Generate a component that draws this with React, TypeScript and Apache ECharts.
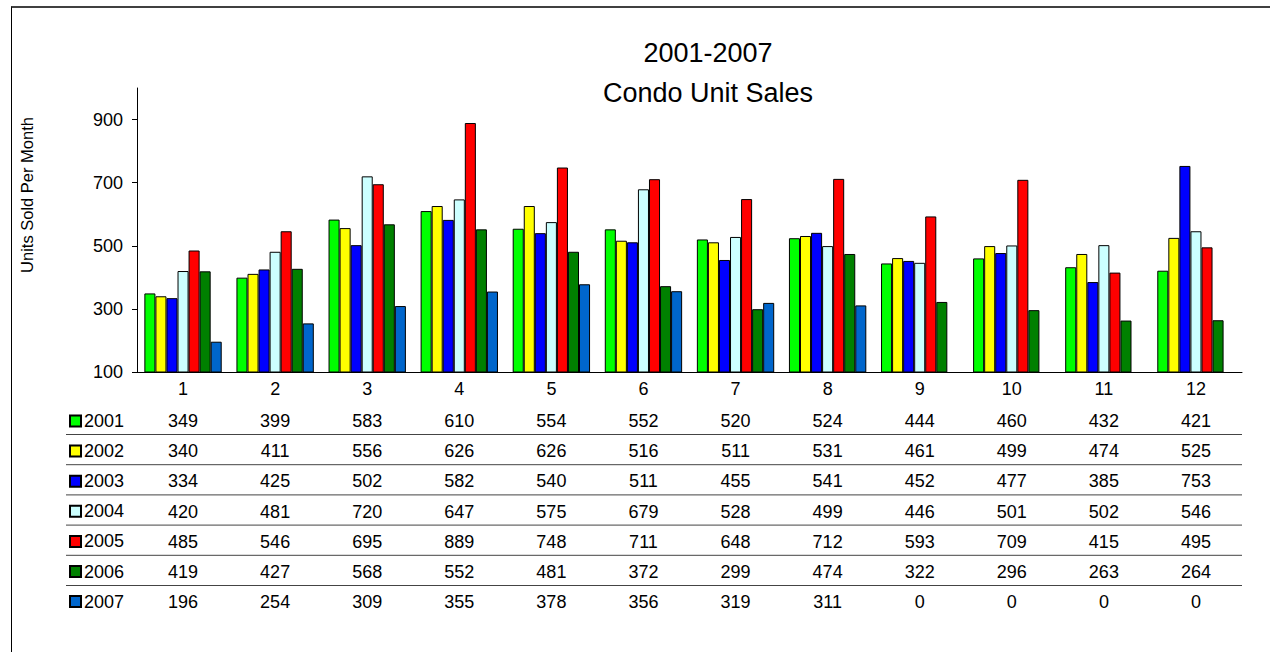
import { useEffect, useRef } from 'react'
import * as echarts from 'echarts'

const months = ['1', '2', '3', '4', '5', '6', '7', '8', '9', '10', '11', '12']
const years = ['2001', '2002', '2003', '2004', '2005', '2006', '2007']
const colors = ['#00ff00', '#ffff00', '#0000ff', '#ccffff', '#ff0000', '#008000', '#0066cc']

const sales2001 = [349, 399, 583, 610, 554, 552, 520, 524, 444, 460, 432, 421]
const sales2002 = [340, 411, 556, 626, 626, 516, 511, 531, 461, 499, 474, 525]
const sales2003 = [334, 425, 502, 582, 540, 511, 455, 541, 452, 477, 385, 753]
const sales2004 = [420, 481, 720, 647, 575, 679, 528, 499, 446, 501, 502, 546]
const sales2005 = [485, 546, 695, 889, 748, 711, 648, 712, 593, 709, 415, 495]
const sales2006 = [419, 427, 568, 552, 481, 372, 299, 474, 322, 296, 263, 264]
const sales2007 = [196, 254, 309, 355, 378, 356, 319, 311, 0, 0, 0, 0]

const rows = [sales2001, sales2002, sales2003, sales2004, sales2005, sales2006, sales2007]
const yTicks = [100, 300, 500, 700, 900]

const FONT = 'Liberation Sans, Arial, sans-serif'
const GRID_BOTTOM = 372
const ROW_TOP = 421
const ROW_STEP = 30.2

export default function App() {
  const chartRef = useRef<HTMLDivElement>(null)

  useEffect(() => {
    if (!chartRef.current) return
    const chart = echarts.init(chartRef.current, null, { renderer: 'svg' })

    // one hidden category axis per table row, so the numbers line up with the months
    const tableAxes = rows.map((row, k) => ({
      type: 'category',
      gridIndex: 0,
      position: 'bottom',
      offset: ROW_TOP + k * ROW_STEP - GRID_BOTTOM,
      data: months,
      axisLine: { show: false },
      axisTick: { show: false },
      axisLabel: {
        interval: 0,
        margin: 0,
        verticalAlign: 'middle',
        fontSize: 18,
        fontFamily: FONT,
        color: '#000',
        formatter: (_v: string, i: number) => String(row[i]),
      },
    }))

    const separators = years.slice(1).map((_, k) => ({
      type: 'line',
      shape: {
        x1: 66,
        y1: ROW_TOP + 13.5 + k * ROW_STEP,
        x2: 1242,
        y2: ROW_TOP + 13.5 + k * ROW_STEP,
      },
      style: { stroke: '#444', lineWidth: 1 },
      silent: true,
    }))

    chart.setOption({
      animation: false,
      title: {
        text: '2001-2007\nCondo Unit Sales',
        left: 703,
        top: 28,
        textAlign: 'center',
        textStyle: {
          fontSize: 27,
          fontWeight: 'normal',
          fontFamily: FONT,
          color: '#000',
          lineHeight: 40,
        },
      },
      legend: {
        orient: 'vertical',
        left: 64,
        top: ROW_TOP - 14,
        itemWidth: 11,
        itemHeight: 11,
        itemGap: 12.1,
        icon: 'rect',
        data: years,
        textStyle: { fontSize: 18, fontFamily: FONT, color: '#000', padding: [0, 0, 0, -2] },
      },
      grid: { left: 137, right: 28, top: 88, bottom: 652 - GRID_BOTTOM },
      xAxis: [
        {
          type: 'category',
          data: months,
          axisLine: { lineStyle: { color: '#000', width: 1 } },
          axisTick: { show: false },
          axisLabel: {
            interval: 0,
            margin: 17,
            verticalAlign: 'middle',
            fontSize: 18,
            fontFamily: FONT,
            color: '#000',
          },
        },
        ...tableAxes,
      ],
      yAxis: {
        type: 'value',
        min: 100,
        max: 1000,
        name: 'Units Sold Per Month',
        nameLocation: 'middle',
        nameRotate: 90,
        nameGap: 102,
        nameTextStyle: { fontSize: 16.5, fontFamily: FONT, color: '#000', padding: [0, 0, 0, 70] },
        splitLine: { show: false },
        axisLine: { show: true, lineStyle: { color: '#000', width: 1 } },
        axisTick: { show: true, length: 5, customValues: yTicks, lineStyle: { color: '#000' } },
        axisLabel: { customValues: yTicks, margin: 14, fontSize: 18, fontFamily: FONT, color: '#000' },
      },
      graphic: separators,
      series: rows.map((row, k) => ({
        name: years[k],
        type: 'bar',
        xAxisIndex: 0,
        data: row,
        barGap: '0%',
        barCategoryGap: '16%',
        itemStyle: { color: colors[k], borderColor: '#000', borderWidth: 1 },
      })),
    })

    return () => {
      chart.dispose()
    }
  }, [])

  return (
    <div style={{ position: 'fixed', left: 0, top: 0, width: 1270, height: 652, background: '#fff' }}>
      <div
        style={{
          position: 'absolute',
          left: 11,
          top: 6,
          width: 1400,
          height: 800,
          borderTop: '2px solid #404040',
          borderLeft: '1px solid #000',
        }}
      />
      <div ref={chartRef} style={{ position: 'absolute', left: 0, top: 0, width: 1270, height: 652 }}></div>
    </div>
  )
}
